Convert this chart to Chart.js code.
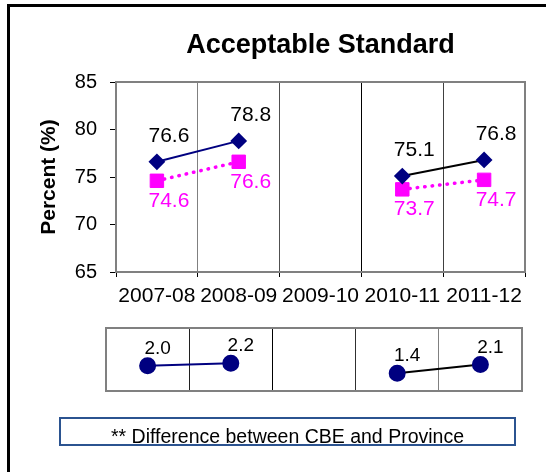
<!DOCTYPE html>
<html>
<head>
<meta charset="utf-8">
<script src="https://cdn.jsdelivr.net/npm/chart.js@4.4.1/dist/chart.umd.min.js"></script>
<style>
  html, body { margin: 0; padding: 0; background: #fff; width: 546px; height: 472px; overflow: hidden; }
  #frame { position: absolute; left: 7px; top: 4px; width: 570px; height: 520px; border: 3px solid #000; box-sizing: border-box; }
  #main { position: absolute; left: 0; top: 0; }
  #diff { position: absolute; left: 0; top: 300px; }
  #note { position: absolute; left: 59px; top: 417px; width: 457px; height: 29px; border: 2px solid #2B5390; box-sizing: border-box; }
  #note span { position: absolute; left: 0; right: 0; top: 7px; text-align: center; white-space: nowrap;
    font-family: "Liberation Sans", Arial, sans-serif; font-size: 19.5px; line-height: 20px; color: #000; }
</style>
</head>
<body>
<div id="frame"></div>
<canvas id="main" width="546" height="330"></canvas>
<canvas id="diff" width="546" height="110"></canvas>
<div id="note"><span>** Difference between CBE and Province</span></div>
<script>
  const years = ['2007-08', '2008-09', '2009-10', '2010-11', '2011-12'];
  const cbe = [76.6, 78.8, null, 75.1, 76.8];
  const province = [74.6, 76.6, null, 73.7, 74.7];
  const difference = [2.0, 2.2, null, 1.4, 2.1];
  const yMin = 65, yMax = 85, yStep = 5;

  Chart.defaults.font.family = '"Liberation Sans", Arial, sans-serif';
  Chart.defaults.color = '#000';

  // value labels next to each point (no datalabels plugin offline)
  const valueLabels = {
    id: 'valueLabels',
    afterDatasetsDraw(chart) {
      const ctx = chart.ctx;
      chart.data.datasets.forEach((ds, i) => {
        const meta = chart.getDatasetMeta(i);
        meta.data.forEach((pt, j) => {
          const v = ds.data[j];
          if (v == null) return;
          ctx.save();
          ctx.font = ds.labelFont;
          ctx.fillStyle = ds.labelColor;
          ctx.textAlign = 'center';
          ctx.textBaseline = 'alphabetic';
          ctx.fillText(v.toFixed(1), pt.x + ds.labelDx, pt.y + ds.labelDy);
          ctx.restore();
        });
      });
    }
  };

  // grey box round the plot area
  const plotFrame = {
    id: 'plotFrame',
    beforeDatasetsDraw(chart) {
      const a = chart.chartArea, ctx = chart.ctx;
      ctx.save();
      ctx.strokeStyle = '#808080';
      ctx.lineWidth = 2;
      ctx.strokeRect(a.left, a.top, a.right - a.left, a.bottom - a.top);
      ctx.restore();
    }
  };

  const gridColors = ['#808080', '#808080', '#505050', '#000000', '#404040', '#808080'];

  new Chart(document.getElementById('main'), {
    type: 'line',
    data: {
      labels: years,
      datasets: [
        {
          label: 'CBE',
          data: cbe,
          borderColor: '#000080',
          borderWidth: 2,
          segment: { borderColor: c => c.p0DataIndex >= 3 ? '#000000' : '#000080' },
          pointStyle: 'rectRot',
          pointRadius: 7,
          pointBackgroundColor: '#000080',
          pointBorderColor: '#000080',
          spanGaps: false,
          labelFont: '21px "Liberation Sans", Arial, sans-serif',
          labelColor: '#000',
          labelDx: 12,
          labelDy: -20
        },
        {
          label: 'Province',
          data: province,
          borderColor: '#FF00FF',
          borderWidth: 3.5,
          borderDash: [0.5, 7],
          borderCapStyle: 'round',
          pointStyle: 'rect',
          pointRadius: 9.5,
          pointBackgroundColor: '#FF00FF',
          pointBorderColor: '#FF00FF',
          pointBorderWidth: 1,
          spanGaps: false,
          labelFont: '21px "Liberation Sans", Arial, sans-serif',
          labelColor: '#FF00FF',
          labelDx: 12,
          labelDy: 26
        }
      ]
    },
    options: {
      responsive: false,
      animation: false,
      layout: { padding: { left: 0, right: 21, top: 0, bottom: 0 } },
      plugins: {
        legend: { display: false },
        tooltip: { enabled: false },
        title: {
          display: true,
          fullSize: false,
          text: 'Acceptable Standard',
          color: '#000',
          font: { size: 27, weight: 'bold', lineHeight: 1.2 },
          padding: { top: 29.8, bottom: 19.8 }
        }
      },
      scales: {
        x: {
          offset: true,
          grid: {
            offset: true,
            color: c => gridColors[c.index] || '#808080',
            lineWidth: 1,
            tickLength: 5,
            tickColor: '#000'
          },
          border: { color: '#000', width: 1.5 },
          ticks: { color: '#000', font: { size: 21 }, maxRotation: 0, autoSkip: false, padding: 7 },
          afterFit: s => { s.height = 58; }
        },
        y: {
          min: yMin,
          max: yMax,
          ticks: { stepSize: yStep, color: '#000', font: { size: 20 }, padding: 13 },
          grid: { drawOnChartArea: false, tickLength: 6, tickColor: '#000' },
          border: { color: '#808080', width: 2 },
          title: {
            display: true,
            text: 'Percent (%)',
            color: '#000',
            font: { size: 21, weight: 'bold', lineHeight: 1.2 },
            padding: { top: 36.4, bottom: 0 }
          },
          afterFit: s => { s.width = 116; }
        }
      }
    },
    plugins: [plotFrame, valueLabels]
  });

  const diffGrid = ['#808080', '#202020', '#000000', '#303030', '#808080', '#808080'];

  new Chart(document.getElementById('diff'), {
    type: 'line',
    data: {
      labels: years,
      datasets: [{
        label: 'Difference',
        data: difference,
        borderColor: '#000080',
        borderWidth: 2,
        segment: { borderColor: c => c.p0DataIndex >= 3 ? '#000000' : '#000080' },
        pointStyle: 'circle',
        pointRadius: 7.5,
        pointBackgroundColor: '#000080',
        pointBorderColor: '#000080',
        spanGaps: false,
        labelFont: '19px "Liberation Sans", Arial, sans-serif',
        labelColor: '#000',
        labelDx: 10,
        labelDy: -12
      }]
    },
    options: {
      responsive: false,
      animation: false,
      layout: { padding: { left: 106, right: 24, top: 28, bottom: 19 } },
      plugins: { legend: { display: false }, tooltip: { enabled: false } },
      scales: {
        x: {
          offset: true,
          grid: { offset: true, drawTicks: false, color: c => diffGrid[c.index] || '#808080' },
          border: { display: false },
          ticks: { display: false },
          afterFit: s => { s.height = 0; }
        },
        y: { display: false, min: 0, max: 5 }
      }
    },
    plugins: [plotFrame, valueLabels]
  });
</script>
</body>
</html>
